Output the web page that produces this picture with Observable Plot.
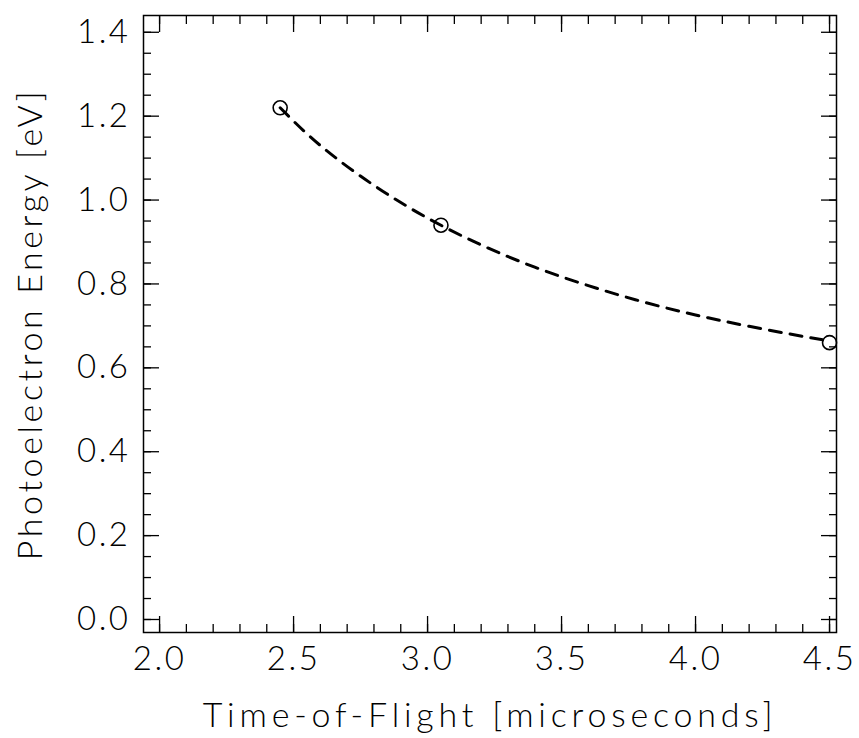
<!DOCTYPE html>
<html><head><meta charset="utf-8">
<script src="https://cdn.jsdelivr.net/npm/d3@7"></script>
<script src="https://cdn.jsdelivr.net/npm/@observablehq/plot@0.6"></script>
<style>html,body{margin:0;padding:0;background:#fff}</style>
</head><body><div id="chart"></div>
<script>
// measured points
const tof = [2.45, 3.05, 4.5];
const energy = [1.22, 0.94, 0.66];
// dashed fit curve
const fitTof = [2.45, 2.6, 2.8, 3.0, 3.2, 3.4, 3.6, 3.8, 4.0, 4.2, 4.4, 4.5];
const fitEnergy = [1.22, 1.13, 1.035, 0.957, 0.893, 0.840, 0.796, 0.758, 0.726, 0.699, 0.675, 0.664];
// ticks
const xTicks = [2.0, 2.5, 3.0, 3.5, 4.0, 4.5];
const yTicks = [0.0, 0.2, 0.4, 0.6, 0.8, 1.0, 1.2, 1.4];
const xMinorTicks = d3.range(20, 46).map(d => d / 10);
const yMinorTicks = d3.range(0, 29).map(d => d / 20);
const xTitle = "Time-of-Flight [microseconds]";
const yTitle = "Photoelectron Energy [eV]";

const points = tof.map((t, i) => ({t, e: energy[i]}));
const fit = fitTof.map((t, i) => ({t, e: fitEnergy[i]}));
const fmt = d3.format(".1f");
const noLabel = () => "";

const plot = Plot.plot({
  width: 859,
  height: 738,
  marginLeft: 143,
  marginRight: 23,
  marginTop: 15,
  marginBottom: 106,
  style: {fontFamily: "Lato, 'DejaVu Sans', sans-serif", fontWeight: 300, fontSize: "33px", color: "#000", background: "#fff", overflow: "visible"},
  x: {domain: [1.94, 4.526]},
  y: {domain: [-0.031, 1.44]},
  marks: [
    // labels
    Plot.axisX({anchor: "bottom", ticks: xTicks, tickSize: 0, tickPadding: 14, tickFormat: fmt, label: null, fontSize: 33}),
    Plot.axisY({anchor: "left", ticks: yTicks, tickSize: 0, tickPadding: 13, tickFormat: fmt, label: null, fontSize: 33}),
    // inward ticks, all four sides
    Plot.axisX({anchor: "bottom", ticks: xTicks, tickSize: -16, tickFormat: noLabel, label: null, strokeWidth: 1.3}),
    Plot.axisX({anchor: "bottom", ticks: xMinorTicks, tickSize: -8, tickFormat: noLabel, label: null, strokeWidth: 1.3}),
    Plot.axisX({anchor: "top", ticks: xTicks, tickSize: -16, tickFormat: noLabel, label: null, strokeWidth: 1.3}),
    Plot.axisX({anchor: "top", ticks: xMinorTicks, tickSize: -8, tickFormat: noLabel, label: null, strokeWidth: 1.3}),
    Plot.axisY({anchor: "left", ticks: yTicks, tickSize: -16, tickFormat: noLabel, label: null, strokeWidth: 1.3}),
    Plot.axisY({anchor: "left", ticks: yMinorTicks, tickSize: -8, tickFormat: noLabel, label: null, strokeWidth: 1.3}),
    Plot.axisY({anchor: "right", ticks: yTicks, tickSize: -16, tickFormat: noLabel, label: null, strokeWidth: 1.3}),
    Plot.axisY({anchor: "right", ticks: yMinorTicks, tickSize: -8, tickFormat: noLabel, label: null, strokeWidth: 1.3}),
    Plot.frame({stroke: "#000", strokeWidth: 1.5}),
    Plot.line(fit, {x: "t", y: "e", curve: "natural", stroke: "#000", strokeWidth: 3, strokeDasharray: "12,9"}),
    Plot.dot(points, {x: "t", y: "e", r: 7, stroke: "#000", strokeWidth: 1.6, fill: "none"}),
    Plot.text([xTitle], {frameAnchor: "bottom", dy: 84, lineAnchor: "middle", textAnchor: "middle", fontSize: 34, fill: "#000", className: "xtitle"}),
    Plot.text([yTitle], {frameAnchor: "left", dx: -112, rotate: -90, lineAnchor: "middle", textAnchor: "middle", fontSize: 34, fill: "#000", className: "ytitle"})
  ]
});
const svg = d3.select(plot);
svg.selectAll('g[aria-label="text"] text').attr("letter-spacing", "4.8px");
svg.selectAll('g[aria-label="text"] text').filter(function() { return this.textContent === yTitle; }).attr("letter-spacing", "3.6px");
svg.selectAll('g[aria-label$="tick label"] text').attr("letter-spacing", "2.5px");
document.getElementById("chart").append(plot);
</script>
</body></html>
